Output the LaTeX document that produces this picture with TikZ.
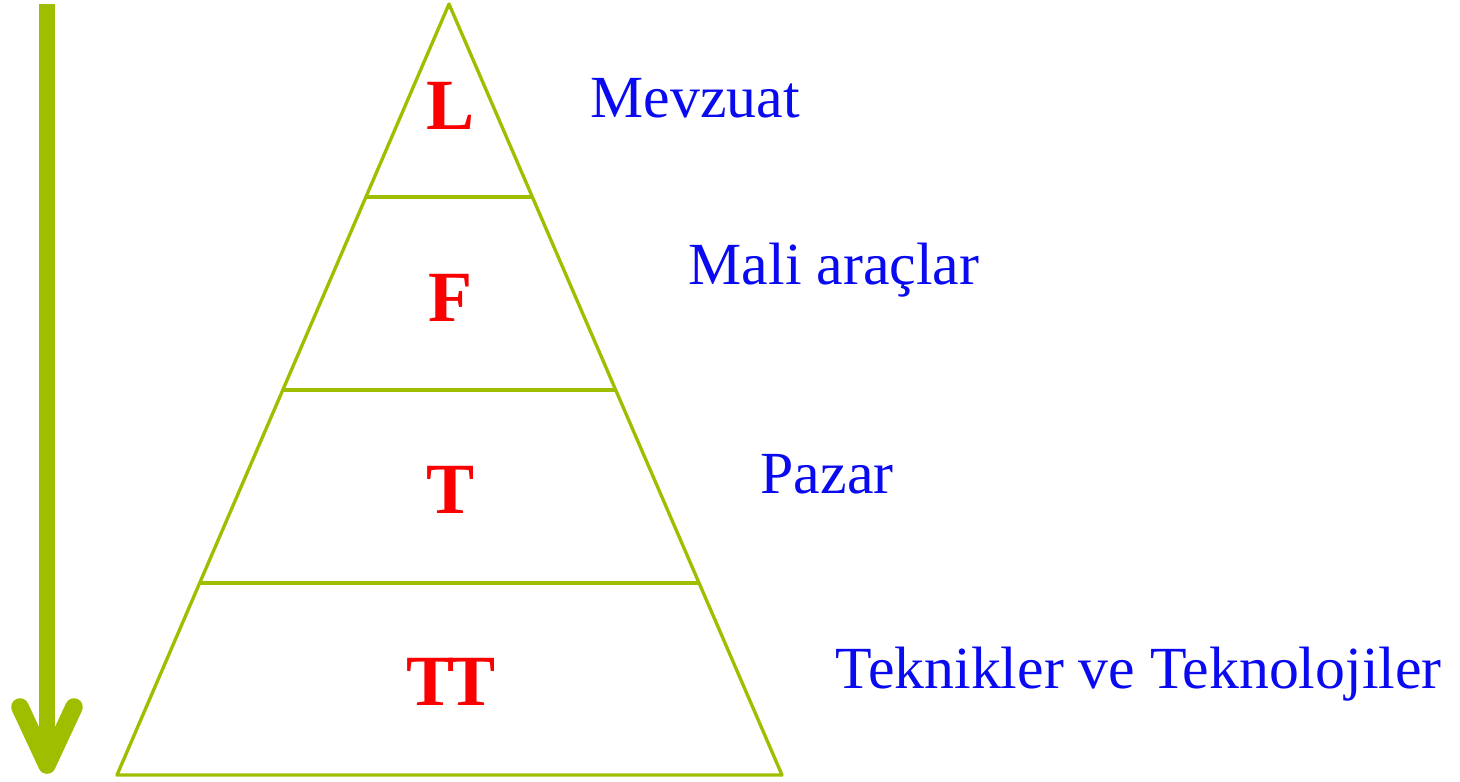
\documentclass[tikz,border=0pt]{standalone}
\usepackage{fontspec}
\setmainfont{Liberation Serif}
\usetikzlibrary{calc}
\definecolor{lime}{RGB}{160,190,0}
\definecolor{tblue}{RGB}{10,10,240}
\definecolor{tred}{RGB}{250,0,0}
\tikzset{
  edge/.style={draw=lime,line width=0.95pt,line join=round},
  bigarrow/.style={draw=lime,line width=4.6pt,line cap=round,line join=round},
  letter/.style={text=tred,font=\fontsize{20.5}{24}\selectfont\bfseries,inner sep=0pt},
  label/.style={text=tblue,font=\fontsize{17}{20}\selectfont,anchor=west,inner sep=0pt},
}
\begin{document}
\begin{tikzpicture}[x=0.01cm,y=-0.01cm]
\useasboundingbox (0,0) rectangle (1460,781);
% arrow
\coordinate (atop) at (47,4);
\coordinate (abot) at (47,765);
\coordinate (al) at (20,707);
\coordinate (ar) at (74,707);
\draw[bigarrow,line cap=butt] (atop) -- (abot);
\draw[bigarrow,line width=5pt] (al) -- (abot) -- (ar);
% pyramid
\coordinate (apex) at (449,4);
\coordinate (bl) at (117,775);
\coordinate (br) at (782,775);
\draw[edge] (apex) -- (bl) -- (br) -- cycle;
\foreach \t in {0.2503,0.5006,0.751}{
  \draw[edge] ($(apex)!\t!(bl)$) -- ($(apex)!\t!(br)$);
}
% letters
\node[letter] (L) at (451,106) {L};
\node[letter] (F) at (451,298) {F};
\node[letter] (T) at (451,490) {T};
\node[letter] (TT) at (451,682) {T\kern-2pt T};
% labels
\node[label] (m1) at (590,98) {Mevzuat};
\node[label] (m2) at (688,270) {Mali araçlar};
\node[label] (m3) at (760,474) {Pazar};
\node[label] (m4) at (835,674) {Teknikler ve Teknolojiler};
\end{tikzpicture}
\end{document}
